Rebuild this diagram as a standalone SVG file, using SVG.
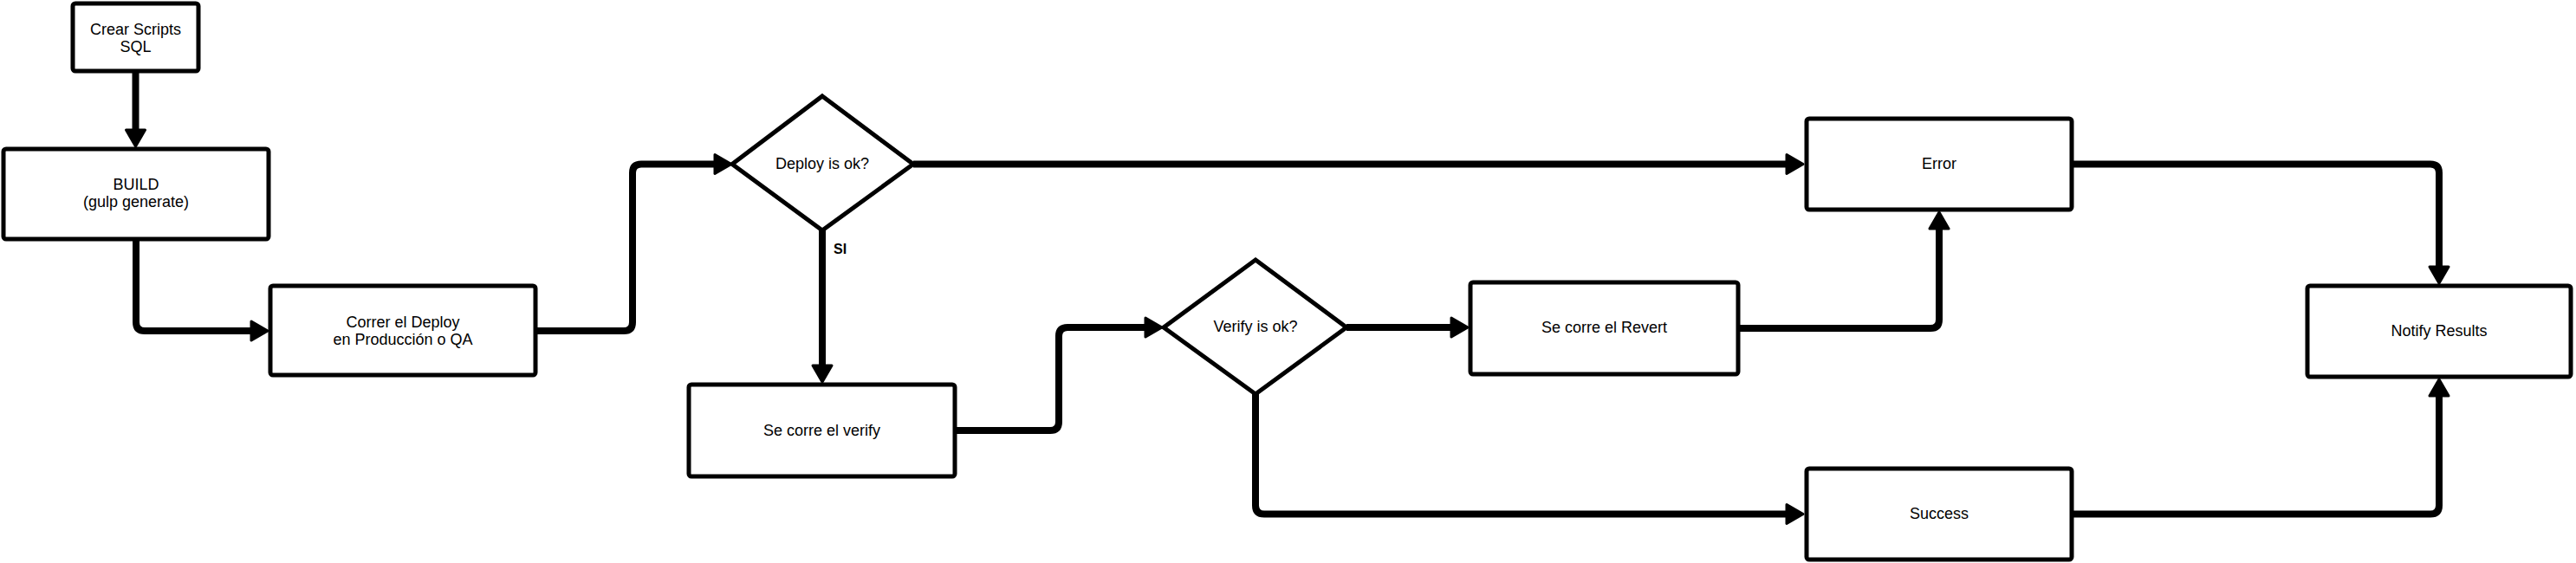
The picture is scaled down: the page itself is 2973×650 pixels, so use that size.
<svg xmlns="http://www.w3.org/2000/svg" width="2973" height="650" viewBox="0 0 2973 650">
<style>
.box{fill:#fff;stroke:#000;stroke-width:5}
.dia{fill:#fff;stroke:#000;stroke-width:5;stroke-linejoin:miter}
.lbl{font-family:"Liberation Sans",Arial,sans-serif;font-size:18px;fill:#000;text-anchor:middle}
.si{font-family:"Liberation Sans",Arial,sans-serif;font-size:16px;font-weight:bold;fill:#000}
.edge{fill:none;stroke:#000;stroke-width:8;marker-end:url(#arr)}
</style>
<defs>
<marker id="arr" markerUnits="userSpaceOnUse" markerWidth="28" markerHeight="28" viewBox="0 0 28 28" refX="2" refY="14" orient="auto">
<path d="M2,3 L21,14 L2,25 Z" fill="#000" stroke="#000" stroke-width="3" stroke-linejoin="round"/>
</marker>
</defs>
<g id="connectors">
<path class="edge" d="M156.5,82 V150"/>
<path class="edge" d="M157,276 V372 Q157,382 167,382 H290"/>
<path class="edge" d="M618,382 H720 Q730,382 730,372 V199.5 Q730,189.5 740,189.5 H825"/>
<path class="edge" d="M949,266 V422"/>
<path class="edge" d="M1102,497 H1212 Q1222,497 1222,487 V388 Q1222,378 1232,378 H1322"/>
<path class="edge" d="M1554,378 H1675"/>
<path class="edge" d="M1449,455 V583.5 Q1449,593.5 1459,593.5 H2062"/>
<path class="edge" d="M1054,189.5 H2062"/>
<path class="edge" d="M2006,379 H2228 Q2238,379 2238,369 V264"/>
<path class="edge" d="M2390,189.5 H2805 Q2815,189.5 2815,199.5 V308"/>
<path class="edge" d="M2392,593.5 H2805 Q2815,593.5 2815,583.5 V457"/>
<text class="si" x="962" y="293">SI</text>
</g>
<g id="crear">
<rect class="box" x="84" y="4" width="145" height="78" rx="3"/>
<text class="lbl" x="156.5" y="40">Crear Scripts</text>
<text class="lbl" x="156.5" y="60">SQL</text>
</g>
<g id="build">
<rect class="box" x="4" y="172" width="306" height="104" rx="3"/>
<text class="lbl" x="157" y="219">BUILD</text>
<text class="lbl" x="157" y="239">(gulp generate)</text>
</g>
<g id="correr">
<rect class="box" x="312" y="330" width="306" height="103" rx="3"/>
<text class="lbl" x="465" y="378">Correr el Deploy</text>
<text class="lbl" x="465" y="398">en Producción o QA</text>
</g>
<g id="deploy-ok">
<polygon class="dia" points="949,111 1054,189.5 949,266 845,189.5"/>
<text class="lbl" x="949" y="195">Deploy is ok?</text>
</g>
<g id="verify">
<rect class="box" x="795" y="444" width="307" height="106" rx="3"/>
<text class="lbl" x="948.5" y="503">Se corre el verify</text>
</g>
<g id="verify-ok">
<polygon class="dia" points="1449,300 1554,378 1449,455 1343,378"/>
<text class="lbl" x="1449" y="383">Verify is ok?</text>
</g>
<g id="revert">
<rect class="box" x="1697" y="326" width="309" height="106" rx="3"/>
<text class="lbl" x="1851.5" y="384">Se corre el Revert</text>
</g>
<g id="error">
<rect class="box" x="2085" y="137" width="306" height="105" rx="3"/>
<text class="lbl" x="2238" y="195">Error</text>
</g>
<g id="success">
<rect class="box" x="2085" y="541" width="306" height="105" rx="3"/>
<text class="lbl" x="2238" y="599">Success</text>
</g>
<g id="notify">
<rect class="box" x="2663" y="330" width="304" height="105" rx="3"/>
<text class="lbl" x="2815" y="388">Notify Results</text>
</g>
</svg>
